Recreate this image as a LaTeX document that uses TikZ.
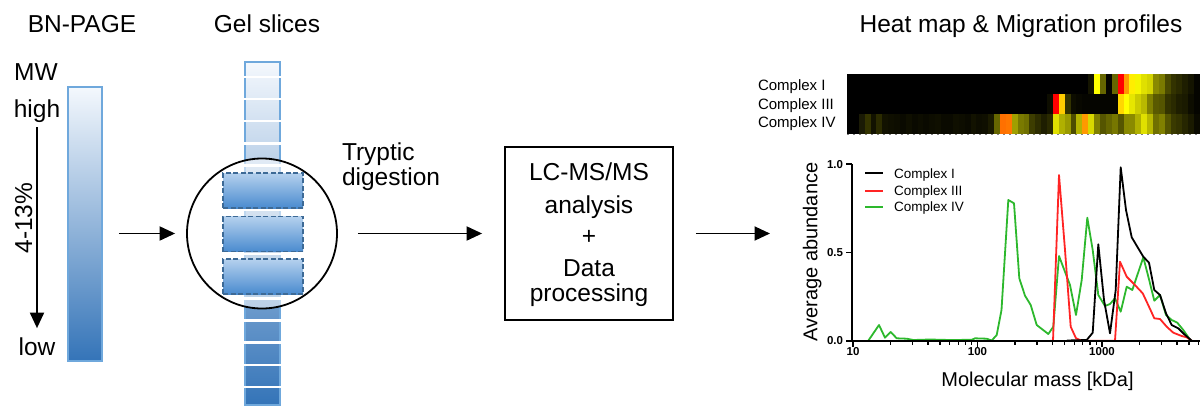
\documentclass[tikz,border=0pt]{standalone}
\usepackage{fontspec}
\setmainfont{Liberation Sans}
\usetikzlibrary{arrows.meta,calc}
\definecolor{gelborder}{HTML}{6FA8DC}
\definecolor{geltop}{HTML}{F4F8FD}
\definecolor{gelbot}{HTML}{3474B8}
\definecolor{boxtop}{HTML}{B5D1EE}
\definecolor{boxbot}{HTML}{4A8BCF}
\definecolor{dashblue}{HTML}{3D6A96}
\definecolor{lineRed}{HTML}{FF2424}
\definecolor{lineGreen}{HTML}{2DB82D}
\newcommand{\fbig}{\fontsize{24.5}{29}\selectfont}
\newcommand{\fmid}{\fontsize{20}{24}\selectfont}
\newcommand{\fhm}{\fontsize{15}{18}\selectfont}
\newcommand{\fleg}{\fontsize{13.5}{16}\selectfont}
\newcommand{\ftick}{\fontsize{11.5}{14}\selectfont\bfseries}
\tikzset{
  txt/.style={inner sep=0pt, outer sep=0pt},
  big/.style={txt, font=\fbig},
  arr/.style={line width=1.9pt, -{Triangle[length=15.5pt,width=14pt]}},
  gel/.style={draw=gelborder, line width=1.8pt, top color=geltop, bottom color=gelbot, inner sep=0pt},
  cut/.style={white, line width=2.4pt},
  dslice/.style={draw=dashblue, line width=1.6pt, dash pattern=on 5pt off 2.5pt, top color=boxtop, bottom color=boxbot, minimum width=80pt, minimum height=35pt, inner sep=0pt},
  axisline/.style={line width=1.6pt, black},
  prof/.style={line width=1.8pt, line join=round},
  hmlab/.style={txt, font=\fhm, anchor=base west},
  leglab/.style={txt, font=\fleg, anchor=base west},
  ticklab/.style={txt, font=\ftick},
}
\begin{document}
\begin{tikzpicture}[x=1pt,y=1pt]
\useasboundingbox (0,0) rectangle (1200,-408);
% titles
\node[big, anchor=base] (t1) at (82,-32) {BN-PAGE};
\node[big, anchor=base] (t2) at (267,-32) {Gel slices};
\node[big, anchor=base] (t3) at (1021,-32) {Heat map \& Migration profiles};
% BN-PAGE column
\node[big, anchor=base] (mw) at (36,-80) {MW};
\node[big, anchor=base] (high) at (37,-117) {high};
\node[big, anchor=base] (low) at (37,-355.5) {low};
\node[big, rotate=90, anchor=base] (pct) at (32,-218) {4-13\%};
\draw[arr, shorten <=5pt, shorten >=9.6pt] (high.south) -- (high.south |- low.north);
\node[gel, minimum width=34pt, minimum height=274pt] (bar) at (85,-224) {};
% gel slices column
\node[gel, minimum width=35pt, minimum height=343pt] (col) at (262.5,-233.5) {};
\foreach \k in {0,...,14} {
  \draw[cut] (242,{-77-22.14*\k}) -- (283,{-77-22.14*\k});
}
\node[circle, draw, line width=1.8pt, fill=white, fill opacity=0.55, minimum size=150pt, inner sep=0pt] (circ) at (262,-233.5) {};
\node[dslice] (s1) at (263,-190.5) {};
\node[dslice] (s2) at (263,-234) {};
\node[dslice] (s3) at (263,-276.5) {};
% tryptic digestion
\node[big, anchor=base west] (tryA) at (342,-160.5) {Tryptic};
\node[big, anchor=base west] (tryB) at (342,-185.5) {digestion};
% LC-MS box
\node[draw, line width=1.8pt, minimum width=168pt, minimum height=173pt, inner sep=0pt] (ms) at (589,-233.5) {};
\node[big, anchor=base] (msA) at (589,-180) {LC-MS/MS};
\node[big, anchor=base] (msB) at (589,-213.5) {analysis};
\node[big, anchor=base] (msC) at (589,-244.5) {+};
\node[big, anchor=base] (msD) at (589,-276) {Data};
\node[big, anchor=base] (msE) at (589,-301) {processing};
% connectors
\coordinate (plotin) at (770,-233.5);
\draw[arr, shorten <=16pt, shorten >=11pt] (bar.east |- circ.west) -- (circ.west);
\draw[arr, shorten <=20pt, shorten >=22pt] (circ.east) -- (ms.west);
\draw[arr, shorten <=22pt] (ms.east) -- (plotin);
% heat map
\fill[black] (847,-74) rectangle (1200,-134);
\foreach \c [count=\i from 41] in {141400,FFFF00,666600,050500,666600,FF0000,FF9900,FFEE00,F5F500,E0E000,D4D400,8A8A00,7A7A00,4A4A00,333300,2A2A00,1E1E00,141400,050500} {
  \definecolor{hc}{HTML}{\c}
  \fill[hc] ({847+5.8833*\i},-74) rectangle ++(6.1,-20);
}
\foreach \c [count=\i from 34] in {0D0D00,FF0000,FFCC00,333300,0D0D00,080800,050500,050500,050500,050500,050500,050500,FFD700,FFFF00,E6E600,CCCC00,B8B800,808000,5A5A00,555500,333300,2A2A00,1E1E00,1A1A00,0D0D00,050500} {
  \definecolor{hc}{HTML}{\c}
  \fill[hc] ({847+5.8833*\i},-94) rectangle ++(6.1,-20);
}
\foreach \c [count=\i from 2] in {1A1A05,333300,121200,2B2B00,121200,0F0F00,0D0D00,0A0A00,0F0F00,0A0A00,0D0D00,0A0A00,0D0D00,0F0F00,0A0A00,0A0A00,0F0F00,0D0D00,0A0A00,121200,0D0D00,0F0F00,1A1A00,666600,FF7000,FF7700,A0A000,7A7A00,707000,3D3D00,2D2D00,1E1E00,2A2A00,E0E000,B0B000,9A9A00,4D4D00,B4B400,FF9900,D8D800,808000,555500,666600,777700,555500,888800,8A8A00,B0B000,E0E000,B8B800,707000,808000,555500,3A3A00,333300,262600,1A1A00,0A0A00} {
  \definecolor{hc}{HTML}{\c}
  \fill[hc] ({847+5.8833*\i},-114) rectangle ++(6.1,-20);
}
\draw[gray, line width=1pt, dash pattern=on 2pt off 4pt] (847,-134.5) -- (1200,-134.5);
\node[hmlab] (h1) at (758,-90.7) {Complex I};
\node[hmlab] (h3) at (758,-109) {Complex III};
\node[hmlab] (h4) at (758,-127) {Complex IV};
% profiles
\draw[prof, lineGreen] (868.3,-340.7) -- (879,-325) -- (885,-337.7) -- (890.7,-332) -- (896.7,-338.3) -- (906.7,-338.7) -- (913.3,-340) -- (930,-339.5) -- (950,-340) -- (971.7,-339.8) -- (975,-338.3) -- (986.7,-338.7) -- (991.7,-340.5) -- (996.7,-335) -- (1001.5,-310) -- (1008.3,-200) -- (1014,-203.3) -- (1019.3,-278.3) -- (1025,-295.7) -- (1030.7,-305) -- (1036.7,-325) -- (1048.3,-334) -- (1053.3,-326.7) -- (1059,-256) -- (1064.3,-270) -- (1070,-285) -- (1076,-315) -- (1081.7,-280) -- (1087.3,-217.7) -- (1092.7,-250) -- (1098.3,-295) -- (1105,-306) -- (1110,-304) -- (1115,-298.3) -- (1120.7,-311.7) -- (1126.7,-286.7) -- (1132.3,-290) -- (1143.3,-257.3) -- (1149,-279.3) -- (1154.3,-300.7) -- (1160,-295) -- (1166,-315) -- (1171.7,-320) -- (1177.3,-322.7) -- (1183.3,-330) -- (1190.7,-340.7);
\draw[prof, lineRed] (1050,-340.7) -- (1053,-340.7) -- (1059,-175) -- (1065,-250) -- (1070.7,-326.7) -- (1076,-338.3) -- (1081.7,-340.7) -- (1115,-340.7) -- (1120,-261.7) -- (1126.7,-276.7) -- (1133.3,-283.3) -- (1142.7,-293.3) -- (1149,-306.7) -- (1154.3,-318.3) -- (1160,-319) -- (1166.7,-326.7) -- (1173.3,-332.7) -- (1181.7,-336) -- (1186.7,-337.3) -- (1191.7,-340.7);
\draw[prof, black] (1067,-340.5) -- (1086.7,-340) -- (1092.7,-332.7) -- (1098.3,-244.3) -- (1104,-300) -- (1110,-333.3) -- (1115.7,-290) -- (1120.7,-167.3) -- (1126,-210) -- (1131.7,-237.3) -- (1137.3,-246.7) -- (1143.3,-256.7) -- (1149,-262.7) -- (1154.3,-290) -- (1160,-295) -- (1166,-313.3) -- (1171.7,-325) -- (1178.3,-328.3) -- (1184,-334) -- (1191.7,-340.7);
% axes
\draw[axisline] (852,-164) -- (852,-340.7) -- (1200,-340.7);
\foreach \v/\yy in {0.0/-340.7,0.5/-252.35,1.0/-164} {
  \draw[axisline] (846,\yy) -- (852,\yy);
}
\node[ticklab, anchor=base east] (y0) at (843,-344.8) {0.0};
\node[ticklab, anchor=base east] (y5) at (843,-256.4) {0.5};
\node[ticklab, anchor=base east] (y1) at (843,-168.1) {1.0};
\foreach \m in {10,100,1000} {
  \draw[axisline] ({853+124.5*(log10(\m)-1)},-340.7) -- ++(0,-6);
}
\foreach \m in {20,30,...,90,200,300,...,900,2000,3000,4000,5000,6000} {
  \draw[line width=1.2pt] ({853+124.5*(log10(\m)-1)},-340.7) -- ++(0,-4);
}
\node[ticklab, anchor=base] (x10) at (853,-355) {10};
\node[ticklab, anchor=base] (x100) at (977.5,-355) {100};
\node[ticklab, anchor=base] (x1000) at (1102,-355) {1000};
\node[txt, font=\fmid, anchor=base] (xlab) at (1037.5,-386) {Molecular mass [kDa]};
\node[txt, font=\fmid, rotate=90, anchor=base] (ylab) at (817.3,-252) {Average abundance};
% legend
\draw[prof, black] (865,-173) -- (883,-173);
\draw[prof, lineRed] (865,-190.7) -- (883,-190.7);
\draw[prof, lineGreen] (865,-207) -- (883,-207);
\node[leglab] (l1) at (894,-178) {Complex I};
\node[leglab] (l3) at (894,-195.5) {Complex III};
\node[leglab] (l4) at (894,-211.8) {Complex IV};
\end{tikzpicture}
\end{document}
